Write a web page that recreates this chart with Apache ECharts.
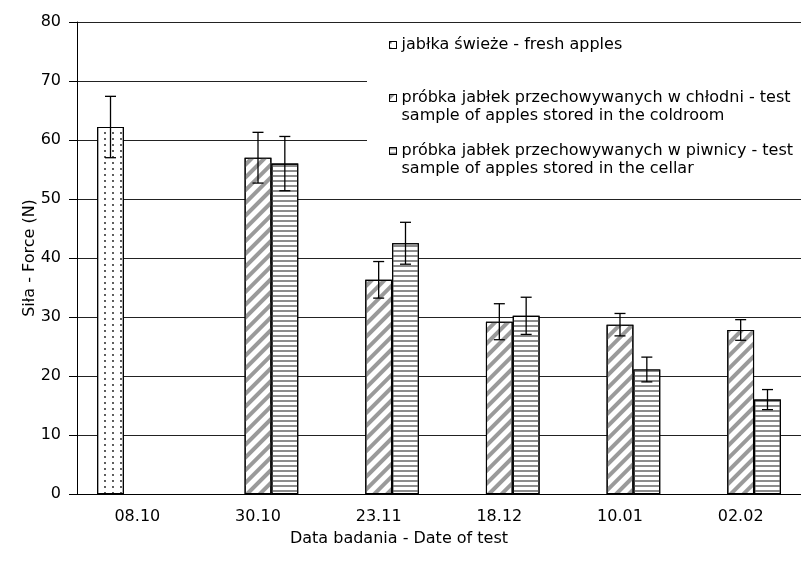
<!DOCTYPE html>
<html>
<head>
<meta charset="utf-8">
<script src="https://cdn.jsdelivr.net/npm/echarts@6/dist/echarts.min.js"></script>
<style>
html,body{margin:0;padding:0;background:#fff;}
#chart{width:801px;height:574px;}
</style>
</head>
<body>
<div id="chart"></div>
<script>
// ---- data ----
const categories = ['08.10', '30.10', '23.11', '18.12', '10.01', '02.02'];
const freshValues  = [62.2, null, null, null, null, null];
const freshErrors  = [5.2,  null, null, null, null, null];
const coldValues   = [null, 57.0, 36.3, 29.2, 28.7, 27.8];
const coldErrors   = [null, 4.3,  3.1,  3.05, 1.9,  1.75];
const cellarValues = [null, 56.0, 42.5, 30.2, 21.1, 16.0];
const cellarErrors = [null, 4.6,  3.55, 3.15, 2.1,  1.7];
const seriesNames = [
  'jabłka świeże - fresh apples',
  'próbka jabłek przechowywanych w chłodni - test\nsample of apples stored in the coldroom',
  'próbka jabłek przechowywanych w piwnicy - test\nsample of apples stored in the cellar'
];
const yAxisTitle = 'Siła - Force (N)';
const xAxisTitle = 'Data badania - Date of test';
const yMin = 0, yMax = 80, yStep = 10;

// ---- chart ----
const FONT = '"DejaVu Sans", Verdana, sans-serif';
const FS = 16;
const LH = 17.5;
const CAT_GAP = 0.333;
const chart = echarts.init(document.getElementById('chart'), null, {renderer: 'canvas'});

function errData(values, errors, slot) {
  const out = [];
  values.forEach((v, i) => {
    if (v != null && errors[i] != null) out.push([i, v - errors[i], v + errors[i], slot]);
  });
  return out;
}
function renderErr(params, api) {
  const i = api.value(0);
  const slot = api.value(3);
  const band = api.size([1, 0])[0];
  const barW = band * (1 - CAT_GAP) / 3;
  const cx = api.coord([i, 0])[0] + slot * barW;
  const yl = api.coord([i, api.value(1)])[1];
  const yh = api.coord([i, api.value(2)])[1];
  const cap = 5.5;
  const st = {stroke: '#000', lineWidth: 1.3};
  return {
    type: 'group',
    children: [
      {type: 'line', shape: {x1: cx, y1: yl, x2: cx, y2: yh}, style: st},
      {type: 'line', shape: {x1: cx - cap, y1: yh, x2: cx + cap, y2: yh}, style: st},
      {type: 'line', shape: {x1: cx - cap, y1: yl, x2: cx + cap, y2: yl}, style: st}
    ]
  };
}

const decals = [
  {symbol: 'circle', symbolSize: 0.9, color: '#111', dashArrayX: [2, 6], dashArrayY: [2, 4]},
  {symbol: 'rect', color: '#9a9a9a', dashArrayX: [1, 0], dashArrayY: [4, 5], rotation: -Math.PI / 4},
  {symbol: 'rect', color: '#8c8c8c', dashArrayX: [1, 0], dashArrayY: [2, 2.3]}
];
const valueSets = [freshValues, coldValues, cellarValues];
const errSets = [freshErrors, coldErrors, cellarErrors];

const barSeries = valueSets.map((vals, k) => ({
  name: seriesNames[k],
  type: 'bar',
  data: vals,
  barGap: '0%',
  barCategoryGap: (CAT_GAP * 100) + '%',
  itemStyle: {color: '#fff', borderColor: '#000', borderWidth: 1.1, decal: decals[k]},
  z: 2
}));
const errSeries = valueSets.map((vals, k) => ({
  name: 'err' + k,
  type: 'custom',
  renderItem: renderErr,
  data: errData(vals, errSets[k], k - 1),
  encode: {x: 0, y: [1, 2]},
  z: 3,
  silent: true
}));

const NB = '\u00a0';
const option = {
  animation: false,
  backgroundColor: '#fff',
  textStyle: {fontFamily: FONT},
  grid: {left: 77, top: 22, width: 729, height: 472},
  legend: {
    orient: 'vertical',
    left: 389, top: 45 - 1.5 * LH,
    padding: 0,
    itemWidth: 7, itemHeight: 7, itemGap: 53 - 3 * LH,
    icon: 'rect',
    selectedMode: false,
    data: seriesNames,
    itemStyle: {borderWidth: 1},
    formatter: n => NB + '\n' + n + (n.indexOf('\n') < 0 ? '\n' + NB : ''),
    textStyle: {fontFamily: FONT, fontSize: FS, color: '#000', lineHeight: LH}
  },
  xAxis: {
    type: 'category',
    data: categories,
    axisLine: {lineStyle: {color: '#000', width: 1}},
    axisTick: {length: 6, lineStyle: {color: '#000'}},
    axisLabel: {color: '#000', fontSize: FS, fontFamily: FONT, margin: 15},
    splitLine: {show: false}
  },
  yAxis: {
    type: 'value',
    min: yMin, max: yMax, interval: yStep,
    name: yAxisTitle,
    nameLocation: 'middle',
    nameGap: 39,
    nameMoveOverlap: false,
    nameTextStyle: {color: '#000', fontSize: FS, fontFamily: FONT},
    axisLine: {show: true, lineStyle: {color: '#000', width: 1}},
    axisTick: {show: true, length: 8, lineStyle: {color: '#000'}},
    axisLabel: {color: '#000', fontSize: FS, fontFamily: FONT, margin: 16},
    splitLine: {show: true, lineStyle: {color: '#222', width: 1}}
  },
  graphic: [
    {type: 'rect', z: 1, shape: {x: 367, y: 60, width: 434, height: 125}, style: {fill: '#fff'}},
    {type: 'text', z: 5, style: {text: xAxisTitle, fill: '#000', font: FS + 'px ' + FONT, x: 399, y: 539, align: 'center', verticalAlign: 'middle'}}
  ],
  series: barSeries.concat(errSeries)
};
chart.setOption(option);
</script>
</body>
</html>
